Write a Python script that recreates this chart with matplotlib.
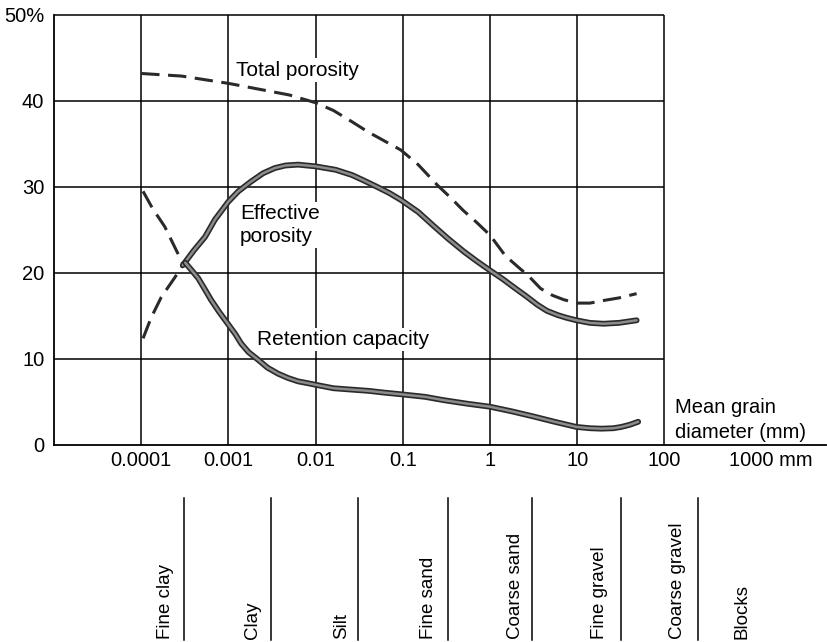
import matplotlib
matplotlib.use('Agg')
import matplotlib.pyplot as plt
import matplotlib.patheffects as pe
from matplotlib.ticker import NullLocator

plt.rcParams['font.family'] = ['Liberation Sans', 'DejaVu Sans']

# grain diameter (mm) and porosity (%)
total_x = [0.0001, 0.00029, 0.001, 0.0031, 0.005, 0.01, 0.016, 0.026, 0.04, 0.095, 0.15,
           0.25, 0.35, 0.49, 0.7, 1.0, 1.5, 2.1, 2.8, 3.8, 5.2, 7.0, 9.8, 14, 20, 30, 48]
total_y = [43.2, 42.9, 42.05, 41.1, 40.7, 39.8, 38.9, 37.6, 36.4, 34.3, 32.6,
           30.2, 28.8, 27.3, 25.9, 24.4, 22.0, 20.7, 19.6, 18.2, 17.4, 16.9, 16.5, 16.5, 16.8, 17.1, 17.6]

eff_dash_x = [0.000105, 0.00013, 0.00017, 0.00024, 0.0003]
eff_dash_y = [12.4, 14.8, 17.2, 19.4, 20.9]
eff_x = [0.0003, 0.0004, 0.00054, 0.0007, 0.001, 0.0013, 0.0018, 0.0025, 0.0034, 0.0045,
         0.0063, 0.01, 0.017, 0.026, 0.035, 0.051, 0.07, 0.095, 0.15, 0.23, 0.33, 0.5,
         0.7, 1.0, 1.4, 1.9, 2.6, 3.5, 4.5, 6.0, 7.5, 9.8, 14, 20, 30, 48]
eff_y = [20.9, 22.6, 24.2, 26.2, 28.3, 29.5, 30.6, 31.6, 32.2, 32.5,
         32.6, 32.4, 32.0, 31.4, 30.8, 30.0, 29.3, 28.5, 27.1, 25.4, 24.0, 22.5,
         21.4, 20.3, 19.3, 18.3, 17.3, 16.3, 15.6, 15.1, 14.8, 14.5, 14.2, 14.1, 14.2, 14.5]

ret_dash_x = [0.000105, 0.000135, 0.000186, 0.00024, 0.0003]
ret_dash_y = [29.5, 27.5, 25.4, 23.1, 21.1]
ret_x = [0.00032, 0.00038, 0.00045, 0.00053, 0.00063, 0.00078, 0.001, 0.0012, 0.0014,
         0.0017, 0.0022, 0.0028, 0.0037, 0.0048, 0.0063, 0.008, 0.01, 0.016, 0.025,
         0.04, 0.06, 0.095, 0.18, 0.3, 0.55, 1.0, 1.8, 3.2, 5.5, 9.8, 14, 19, 26, 32, 40, 50]
ret_y = [21.2, 20.3, 19.4, 18.2, 16.9, 15.5, 14.0, 12.9, 11.8,
         10.8, 9.9, 9.0, 8.3, 7.8, 7.4, 7.2, 7.0, 6.6, 6.45,
         6.3, 6.1, 5.9, 5.6, 5.2, 4.8, 4.45, 3.9, 3.3, 2.7, 2.1, 1.95, 1.9, 1.95, 2.1, 2.35, 2.7]

x_ticks = [0.0001, 0.001, 0.01, 0.1, 1, 10, 100]
x_tick_labels = ['0.0001', '0.001', '0.01', '0.1', '1', '10', '100']
y_ticks = [0, 10, 20, 30, 40, 50]
y_tick_labels = ['0', '10', '20', '30', '40', '50%']

classes = ['Fine clay', 'Clay', 'Silt', 'Fine sand', 'Coarse sand',
           'Fine gravel', 'Coarse gravel', 'Blocks']

W, H = 827, 642
fig = plt.figure(figsize=(W / 100, H / 100), dpi=100)
ax = fig.add_axes([54 / W, (H - 445) / H, 772 / W, 430 / H])

ax.set_xscale('log')
ax.set_xlim(1e-5, 10 ** 3.853)
ax.set_ylim(0, 50)

# grid box only goes up to 100 mm, the bottom axis runs on
for x in x_ticks:
    ax.vlines(x, 0, 50, color='black', lw=1.1, zorder=1, clip_on=False)
for y in y_ticks[1:]:
    ax.hlines(y, 1e-5, 100, color='black', lw=1.1, zorder=1, clip_on=False)

for s in ['top', 'right']:
    ax.spines[s].set_visible(False)
for s in ['left', 'bottom']:
    ax.spines[s].set_linewidth(1.3)

ax.set_xticks(x_ticks)
ax.set_xticklabels(x_tick_labels, fontsize=14.5)
ax.xaxis.set_minor_locator(NullLocator())
ax.set_yticks(y_ticks)
ax.set_yticklabels(y_tick_labels, fontsize=14.5)
ax.tick_params(axis='x', length=0, pad=4)
ax.tick_params(axis='y', length=0, pad=7)

ax.annotate('1000 mm', xy=(1000, 0), xytext=(-16, -4), textcoords='offset points',
            ha='left', va='top', fontsize=14.5)

# curves: solid ones are drawn as grey lines with a dark edge
edge = [pe.Stroke(linewidth=4.2, foreground='#2a2a2a'), pe.Normal()]
solid = dict(color='#8c8c8c', lw=1.8, solid_capstyle='round', solid_joinstyle='round',
             zorder=3, path_effects=edge)
dashed = dict(color='#2a2a2a', lw=2.2, dashes=(6, 2.8), zorder=3)

ax.plot(total_x, total_y, **dashed)
ax.plot(eff_dash_x, eff_dash_y, **dashed)
ax.plot(ret_dash_x, ret_dash_y, **dashed)
ax.plot(eff_x, eff_y, **solid)
ax.plot(ret_x, ret_y, **solid)

box = dict(facecolor='white', edgecolor='none', pad=1.5)
ax.text(0.00123, 43.6, 'Total porosity', fontsize=15, ha='left', va='center', bbox=box, zorder=4)
ax.text(0.00136, 25.6, 'Effective\nporosity', fontsize=15, ha='left', va='center',
        linespacing=1.25, bbox=box, zorder=4)
ax.text(0.00213, 12.3, 'Retention capacity', fontsize=15, ha='left', va='center', bbox=box, zorder=4)

tr = ax.get_yaxis_transform()
ax.text(0.804, 4.4, 'Mean grain', transform=tr, fontsize=14.5, ha='left', va='center')
ax.text(0.804, 1.4, 'diameter (mm)', transform=tr, fontsize=14.5, ha='left', va='center')

# grain size classes under the chart (figure pixel positions)
label_px = [166, 252, 342, 428, 515, 600, 678, 742]
sep_px = [184, 271, 358, 448, 532, 621, 698]
for name, px in zip(classes, label_px):
    fig.text(px / W, (H - 639) / H, name, rotation=90, ha='center', va='bottom', fontsize=13.5)
for px in sep_px:
    fig.add_artist(plt.Line2D([px / W, px / W], [(H - 498) / H, (H - 640) / H],
                              color='black', lw=1.1))

fig.savefig('out.png', dpi=100)
